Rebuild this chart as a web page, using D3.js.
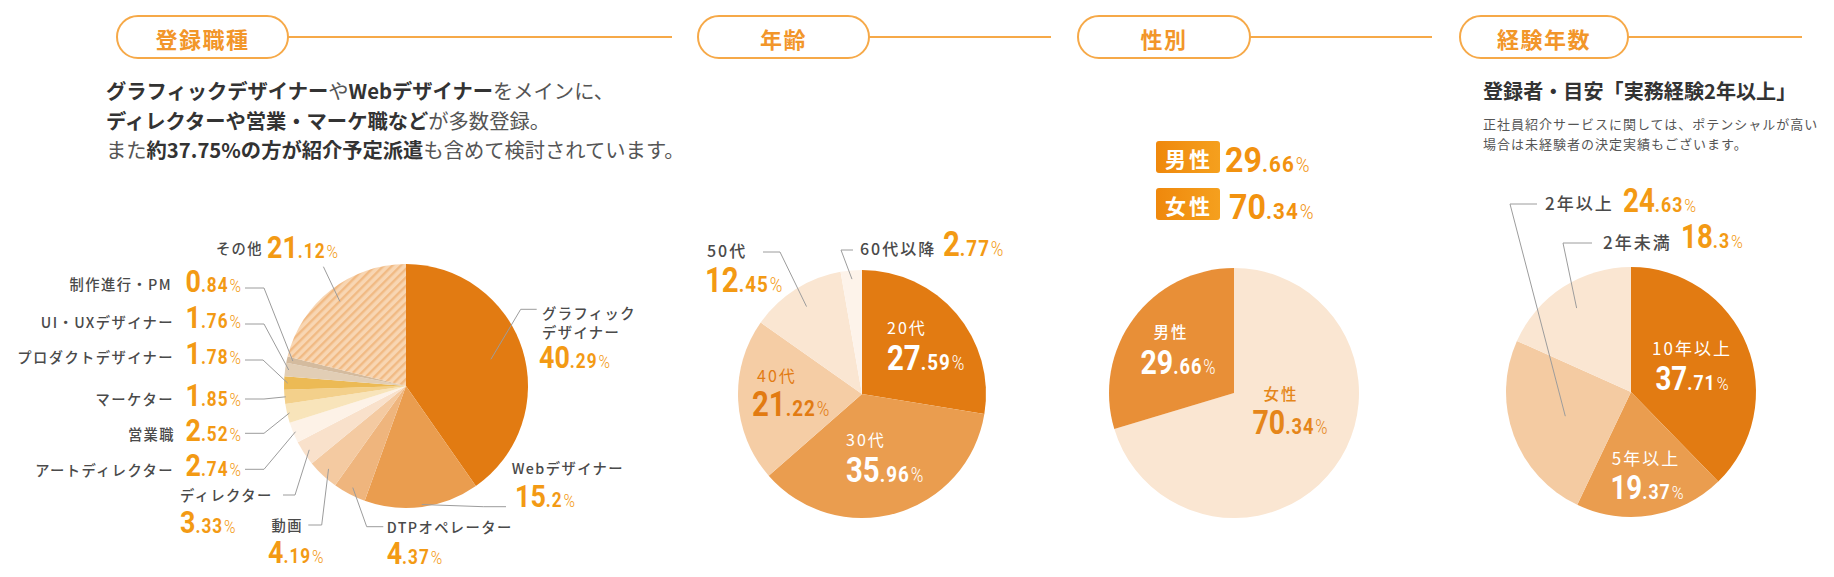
<!DOCTYPE html>
<html><head><meta charset="utf-8">
<script src="https://cdn.jsdelivr.net/npm/d3@7"></script>
<style>
html,body{margin:0;padding:0;background:#fff;}
svg{display:block;}
</style></head><body>
<svg id="chart" width="1834" height="577"></svg>
<script>
// ---------------- data ----------------
const sectionTitles = ["登録職種", "年齢", "性別", "経験年数"];

const jobCategories = ["グラフィックデザイナー", "Webデザイナー", "DTPオペレーター", "動画", "ディレクター", "アートディレクター", "営業職", "マーケター", "プロダクトデザイナー", "UI・UXデザイナー", "制作進行・PM", "その他"];
const jobValues = [40.29, 15.2, 4.37, 4.19, 3.33, 2.74, 2.52, 1.85, 1.78, 1.76, 0.84, 21.12];

const ageCategories = ["20代", "30代", "40代", "50代", "60代以降"];
const ageValues = [27.59, 35.96, 21.22, 12.45, 2.77];

const genderCategories = ["女性", "男性"];
const genderValues = [70.34, 29.66];

const expCategories = ["10年以上", "5年以上", "2年以上", "2年未満"];
const expValues = [37.71, 19.37, 24.63, 18.3];

const jobIntro = [
  [["グラフィックデザイナー", 1], ["や", 0], ["Webデザイナー", 1], ["をメインに、", 0]],
  [["ディレクターや営業・マーケ職など", 1], ["が多数登録。", 0]],
  [["また", 0], ["約37.75%の方が紹介予定派遣", 1], ["も含めて検討されています。", 0]]
];
const expSubtitle = "登録者・目安「実務経験2年以上」";
const expNote = ["正社員紹介サービスに関しては、ポテンシャルが高い", "場合は未経験者の決定実績もございます。"];

// ---------------- styles / layout ----------------
const JP = '"Noto Sans CJK JP", "Noto Sans", sans-serif';
const NUM = 'Roboto, "DejaVu Sans", sans-serif';
const ORANGE = '#F39A14';
const GRAY = '#4a4a4a';
const LEADER = '#9c9c9c';

const svg = d3.select('#chart');
const defs = svg.append('defs');
const pat = defs.append('pattern').attr('id', 'hatch').attr('patternUnits', 'userSpaceOnUse')
  .attr('width', 6).attr('height', 6).attr('patternTransform', 'rotate(45)');
pat.append('rect').attr('width', 6).attr('height', 6).attr('fill', '#F8D6B3');
pat.append('rect').attr('width', 2.4).attr('height', 6).attr('fill', '#F1BA84');
const grad = defs.append('linearGradient').attr('id', 'badgeGrad');
grad.append('stop').attr('offset', '0%').attr('stop-color', '#EF880C');
grad.append('stop').attr('offset', '100%').attr('stop-color', '#F5A01E');

// section headers
const headers = [
  {x: 117, w: 171, end: 672},
  {x: 698, w: 171, end: 1051},
  {x: 1078, w: 172, end: 1432},
  {x: 1460, w: 168, end: 1802}
];
const hy = 16, hh = 42;
headers.forEach((h, i) => {
  svg.append('line').attr('x1', h.x + h.w).attr('x2', h.end).attr('y1', hy + hh / 2).attr('y2', hy + hh / 2)
    .attr('stroke', '#F6A948').attr('stroke-width', 2);
  svg.append('rect').attr('x', h.x).attr('y', hy).attr('width', h.w).attr('height', hh)
    .attr('rx', hh / 2).attr('fill', '#fff').attr('stroke', '#F6A948').attr('stroke-width', 2);
  svg.append('text').attr('x', h.x + h.w / 2).attr('y', hy + hh / 2 + 1)
    .attr('text-anchor', 'middle').attr('dominant-baseline', 'central')
    .attr('font-family', JP).attr('font-weight', 700).attr('font-size', 22).attr('letter-spacing', 1.5)
    .attr('fill', '#F2962A').text(sectionTitles[i]);
});

// intro text (job section)
jobIntro.forEach((line, i) => {
  const t = svg.append('text').attr('x', 106).attr('y', 90 + i * 29.5).attr('dominant-baseline', 'central')
    .attr('font-family', JP).attr('font-size', 20.3);
  line.forEach(([s, b]) => t.append('tspan').text(s).attr('font-weight', b ? 700 : 400).attr('fill', b ? '#333' : '#555'));
});

// experience subtitle + note
svg.append('text').attr('x', 1483).attr('y', 90).attr('dominant-baseline', 'central')
  .attr('font-family', JP).attr('font-size', 20.1).attr('font-weight', 700).attr('fill', '#333').text(expSubtitle);
expNote.forEach((s, i) => svg.append('text').attr('x', 1483).attr('y', 123 + i * 20.5).attr('dominant-baseline', 'central')
  .attr('font-family', JP).attr('font-size', 13).attr('letter-spacing', 1).attr('fill', '#555').text(s));

// ---------------- helpers ----------------
function addLabel(lines, x, y, o) {
  const t = svg.append('text').attr('x', x).attr('y', y)
    .attr('text-anchor', o.anchor || 'start').attr('dominant-baseline', 'central')
    .attr('fill', o.color || GRAY).attr('font-family', JP).attr('font-size', o.size || 14)
    .attr('font-weight', o.weight || 500).attr('letter-spacing', o.ls == null ? 1.4 : o.ls);
  lines.forEach((l, i) => t.append('tspan').attr('x', x).attr('dy', i === 0 ? 0 : (o.lh || 19)).text(l));
}
function addValue(v, x, y, o) {
  const s = String(v), k = s.indexOf('.');
  const ip = k < 0 ? s : s.slice(0, k), dp = k < 0 ? '' : s.slice(k);
  const big = o.big || 32;
  const t = svg.append('text').attr('transform', `translate(${x},${y}) scale(${o.sx || 0.84},1)`)
    .attr('text-anchor', o.anchor || 'start').attr('fill', o.color || ORANGE).attr('font-family', NUM);
  t.append('tspan').text(ip).attr('font-size', big).attr('font-weight', 700);
  t.append('tspan').text(dp).attr('font-size', big * 0.64).attr('font-weight', 700).attr('letter-spacing', 1.2);
  t.append('tspan').text('%').attr('font-size', big * 0.58).attr('font-weight', 300).attr('dx', 1);
}
function drawPie(values, cfg) {
  const arcs = d3.pie().sort(null).value(d => d)(values);
  const arc = d3.arc().innerRadius(0).outerRadius(cfg.r);
  svg.append('g').attr('transform', `translate(${cfg.cx},${cfg.cy})`)
    .selectAll('path').data(arcs).join('path').attr('d', arc).attr('fill', (d, i) => cfg.colors[i]);
  return arcs;
}
function drawLabels(arcs, cats, cfg, layout) {
  arcs.forEach((d, i) => {
    const L = layout[i];
    if (L.leader) {
      const a = (d.startAngle + d.endAngle) / 2;
      const inner = [cfg.cx + L.k * cfg.r * Math.sin(a), cfg.cy - L.k * cfg.r * Math.cos(a)];
      svg.append('path').attr('d', d3.line()([...L.leader, inner]))
        .attr('fill', 'none').attr('stroke', LEADER).attr('stroke-width', 1);
    }
    addLabel(L.lines || [cats[i]], L.tx, L.ty, {anchor: L.anchor, color: L.color, size: cfg.labelSize, ls: cfg.labelLs, weight: L.weight});
    addValue(d.data, L.vx, L.vy, {anchor: L.vanchor || L.anchor, color: L.vcolor || ORANGE, big: cfg.big, sx: cfg.sx});
  });
}

// ---------------- pie 1: 登録職種 ----------------
const pie1 = {cx: 406, cy: 386, r: 122, labelSize: 14.3, labelLs: 1.4, big: 32, sx: 0.84,
  colors: ["#E27B12", "#EA9D4F", "#EFB57D", "#F4CAA1", "#F9E1CB", "#FDF2E7", "#F8E4BA", "#F3D08B", "#ECBA55", "#E2CEB5", "#D4BB9E", "url(#hatch)"]};
const pie1Layout = [
  {lines: ["グラフィック", "デザイナー"], tx: 542, ty: 311.7, vx: 539, vy: 368, leader: [[536.7, 309.3], [520.7, 309.3]], k: 0.73},
  {tx: 511.7, ty: 466.5, vx: 515, vy: 506.7, leader: [[506, 506.7], [483.3, 506.7]], k: 0.98},
  {tx: 386.7, ty: 525.5, vx: 386.7, vy: 564, leader: [[383.3, 526.7], [366.7, 526.7]], k: 0.94},
  {tx: 303, ty: 524, anchor: 'end', vx: 268, vy: 563, vanchor: 'start', leader: [[308.3, 525], [321.7, 525]], k: 0.93},
  {tx: 180, ty: 494, vx: 180, vy: 533, leader: [[283, 495], [295, 495]], k: 0.95},
  {tx: 174, ty: 469.3, anchor: 'end', vx: 241, vy: 476, leader: [[245, 469.3], [264, 469.3]], k: 0.98},
  {tx: 175, ty: 433.3, anchor: 'end', vx: 241, vy: 441, leader: [[245, 433.3], [264, 433.3]], k: 0.98},
  {tx: 174, ty: 398.3, anchor: 'end', vx: 241, vy: 405.5, leader: [[245, 399], [264, 399]], k: 0.99},
  {tx: 174, ty: 356, anchor: 'end', vx: 241, vy: 364.3, leader: [[245, 360], [263, 360]], k: 0.97},
  {tx: 174, ty: 320.7, anchor: 'end', vx: 241, vy: 328.3, leader: [[245, 324], [264, 324]], k: 0.97},
  {tx: 172, ty: 282.7, anchor: 'end', vx: 241, vy: 291.7, leader: [[245, 288], [264, 288]], k: 0.95},
  {tx: 263, ty: 246.7, anchor: 'end', vx: 267, vy: 258.3, vanchor: 'start', leader: [[323.4, 266.7]], k: 0.88}
];
drawLabels(drawPie(jobValues, pie1), jobCategories, pie1, pie1Layout);

// ---------------- pie 2: 年齢 ----------------
const pie2 = {cx: 862, cy: 394, r: 124, labelSize: 16, labelLs: 2, big: 35, sx: 0.84,
  colors: ["#E27B12", "#EA9D4F", "#F5CDA5", "#FAE6D2", "#FDF3EA"]};
const pie2Layout = [
  {tx: 887, ty: 327, color: '#fff', vx: 887, vy: 370, vcolor: '#fff', weight: 400},
  {tx: 846, ty: 438.5, color: '#fff', vx: 846, vy: 482, vcolor: '#fff', weight: 400},
  {tx: 757, ty: 374.5, color: '#E27B12', vx: 752, vy: 416, vcolor: '#E27B12', weight: 400},
  {tx: 707, ty: 249.5, vx: 705, vy: 292, leader: [[763, 252], [780, 252]], k: 0.835},
  {tx: 860, ty: 248, vx: 943, vy: 256, leader: [[853, 250], [841, 250]], k: 0.93}
];
drawLabels(drawPie(ageValues, pie2), ageCategories, pie2, pie2Layout);

// ---------------- pie 3: 性別 ----------------
const pie3 = {cx: 1234, cy: 393, r: 125, labelSize: 15.5, labelLs: 2, big: 34, sx: 0.84,
  colors: ["#FAE6D2", "#E88F37"]};
const pie3Layout = [
  {tx: 1281, ty: 392.5, anchor: 'middle', color: '#E5861A', vx: 1290, vy: 434, vcolor: '#E5861A'},
  {tx: 1171, ty: 330.5, anchor: 'middle', color: '#fff', vx: 1178, vy: 373.5, vcolor: '#fff'}
];
drawLabels(drawPie(genderValues, pie3), genderCategories, pie3, pie3Layout);

// gender badges (男性 first, then 女性)
[1, 0].forEach((idx, row) => {
  const by = 141 + row * 47;
  svg.append('rect').attr('x', 1156).attr('y', by).attr('width', 64).attr('height', 32).attr('rx', 3)
    .attr('fill', 'url(#badgeGrad)');
  svg.append('text').attr('x', 1189).attr('y', by + 16.5).attr('text-anchor', 'middle').attr('dominant-baseline', 'central')
    .attr('font-family', JP).attr('font-weight', 700).attr('font-size', 21).attr('letter-spacing', 3)
    .attr('fill', '#fff').text(genderCategories[idx]);
  addValue(genderValues[idx], idx === 1 ? 1225 : 1229, by + 30.5, {big: 35, sx: 0.92, color: '#F2920F'});
});

// ---------------- pie 4: 経験年数 ----------------
const pie4 = {cx: 1631, cy: 392, r: 125, labelSize: 17, labelLs: 2, big: 33, sx: 0.84,
  colors: ["#E27B12", "#EA9D4F", "#F4CBA2", "#FAE6D2"]};
const pie4Layout = [
  {tx: 1692, ty: 347, anchor: 'middle', color: '#fff', vx: 1692, vy: 390, vcolor: '#fff', weight: 400},
  {tx: 1646, ty: 457, anchor: 'middle', color: '#fff', vx: 1647, vy: 498.5, vcolor: '#fff', weight: 400},
  {tx: 1545, ty: 202, vx: 1623, vy: 211.5, leader: [[1537, 204], [1510, 204]], k: 0.56},
  {tx: 1603, ty: 241, vx: 1681, vy: 248, leader: [[1592, 243], [1563, 243]], k: 0.8}
];
drawLabels(drawPie(expValues, pie4), expCategories, pie4, pie4Layout);
</script>
</body></html>
